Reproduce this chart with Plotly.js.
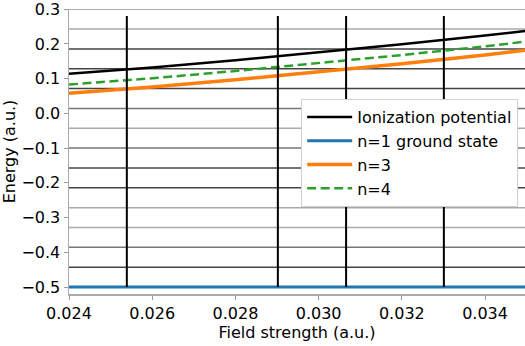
<!DOCTYPE html>
<html><head><meta charset="utf-8">
<script src="https://cdn.plot.ly/plotly-3.0.1.min.js"></script>
<style>html,body{margin:0;padding:0;overflow:hidden;background:#fff}</style>
</head><body><div id="chart" style="width:525px;height:346px"></div>
<script>
// Field strength samples (a.u.)
const fieldStrength = [0.024, 0.026, 0.028, 0.030, 0.032, 0.034, 0.035];
// Energies (a.u.)
const ionizationPotential = [0.114, 0.132, 0.153, 0.175, 0.199, 0.224, 0.238];
const groundState = [-0.5, -0.5, -0.5, -0.5, -0.5, -0.5, -0.5];
const n3Level = [0.058, 0.076, 0.097, 0.119, 0.143, 0.168, 0.182];
const n4Level = [0.083, 0.101, 0.122, 0.144, 0.168, 0.193, 0.207];
// Horizontal reference levels
const refLevels = [0.3, 0.2429, 0.1857, 0.1286, 0.0714, 0.0143, -0.0429, -0.1, -0.1571, -0.2143, -0.2714, -0.3286, -0.3857, -0.4429];
const refShade = ['light','light','dark','dark','dark','mid','light','mid','dark','dark','light','light','mid','dark'];
// Vertical marker lines
const markerX = [0.02539, 0.02902, 0.03066, 0.03301];
const markerBottom = -0.5, markerTop = 0.28;
const xTicks = [0.024, 0.026, 0.028, 0.030, 0.032, 0.034];
const yTicks = [-0.5, -0.4, -0.3, -0.2, -0.1, 0.0, 0.1, 0.2, 0.3];

const shadeColor = {light: '#aaaaaa', mid: '#777777', dark: '#444444'};
const shapes = [];
refLevels.forEach((v, i) => shapes.push({type: 'line', xref: 'paper', yref: 'y', x0: 0, x1: 1, y0: v, y1: v,
  line: {color: shadeColor[refShade[i]], width: 1.5}, layer: 'below'}));
markerX.forEach(x => shapes.push({type: 'line', xref: 'x', yref: 'y', x0: x, x1: x, y0: markerBottom, y1: markerTop,
  line: {color: '#000', width: 2}, layer: 'above'}));

const fmt = (v, d) => (v < 0 ? '\u2212' : '') + Math.abs(v).toFixed(d);
const font = {family: 'DejaVu Sans', size: 16, color: '#000'};
const traces = [
  {x: fieldStrength, y: ionizationPotential, name: 'Ionization potential', mode: 'lines', line: {color: '#000', width: 2.5}},
  {x: fieldStrength, y: groundState, name: 'n=1 ground state', mode: 'lines', line: {color: '#1f77b4', width: 3}},
  {x: fieldStrength, y: n3Level, name: 'n=3', mode: 'lines', line: {color: '#ff7f0e', width: 3.5}},
  {x: fieldStrength, y: n4Level, name: 'n=4', mode: 'lines', line: {color: '#2ca02c', width: 2.5, dash: '9px,4.5px'}}
];
const layout = {
  width: 525, height: 346,
  margin: {l: 69, r: 0, t: 9, b: 52},
  paper_bgcolor: '#fff', plot_bgcolor: '#fff',
  font: font,
  showlegend: true,
  xaxis: {range: [0.024, 0.03496], tickvals: xTicks, ticktext: xTicks.map(v => fmt(v, 3)),
    showgrid: false, zeroline: false, showline: true, linecolor: '#aaaaaa', linewidth: 1.5,
    ticks: 'outside', ticklen: 4, tickcolor: '#999', tickwidth: 1, ticklabeloverflow: 'allow',
    title: {text: 'Field strength (a.u.)', font: font, standoff: 0}, tickfont: font},
  yaxis: {range: [-0.52, 0.3005], tickvals: yTicks, ticktext: yTicks.map(v => fmt(v, 1)),
    showgrid: false, zeroline: false, showline: true, linecolor: '#aaaaaa', linewidth: 1.5,
    ticks: 'outside', ticklen: 4, tickcolor: '#999', tickwidth: 1, ticklabeloverflow: 'allow',
    title: {text: 'Energy (a.u.)', font: font, standoff: 3}, tickfont: font},
  legend: {x: 0.985, y: 0.684, xanchor: 'right', yanchor: 'top', bgcolor: '#fff',
    bordercolor: '#d0d0d0', borderwidth: 1, font: font, itemwidth: 45, tracegroupgap: 0},
  shapes: shapes
};
Plotly.newPlot('chart', traces, layout, {displayModeBar: false, staticPlot: true});
</script></body></html>
